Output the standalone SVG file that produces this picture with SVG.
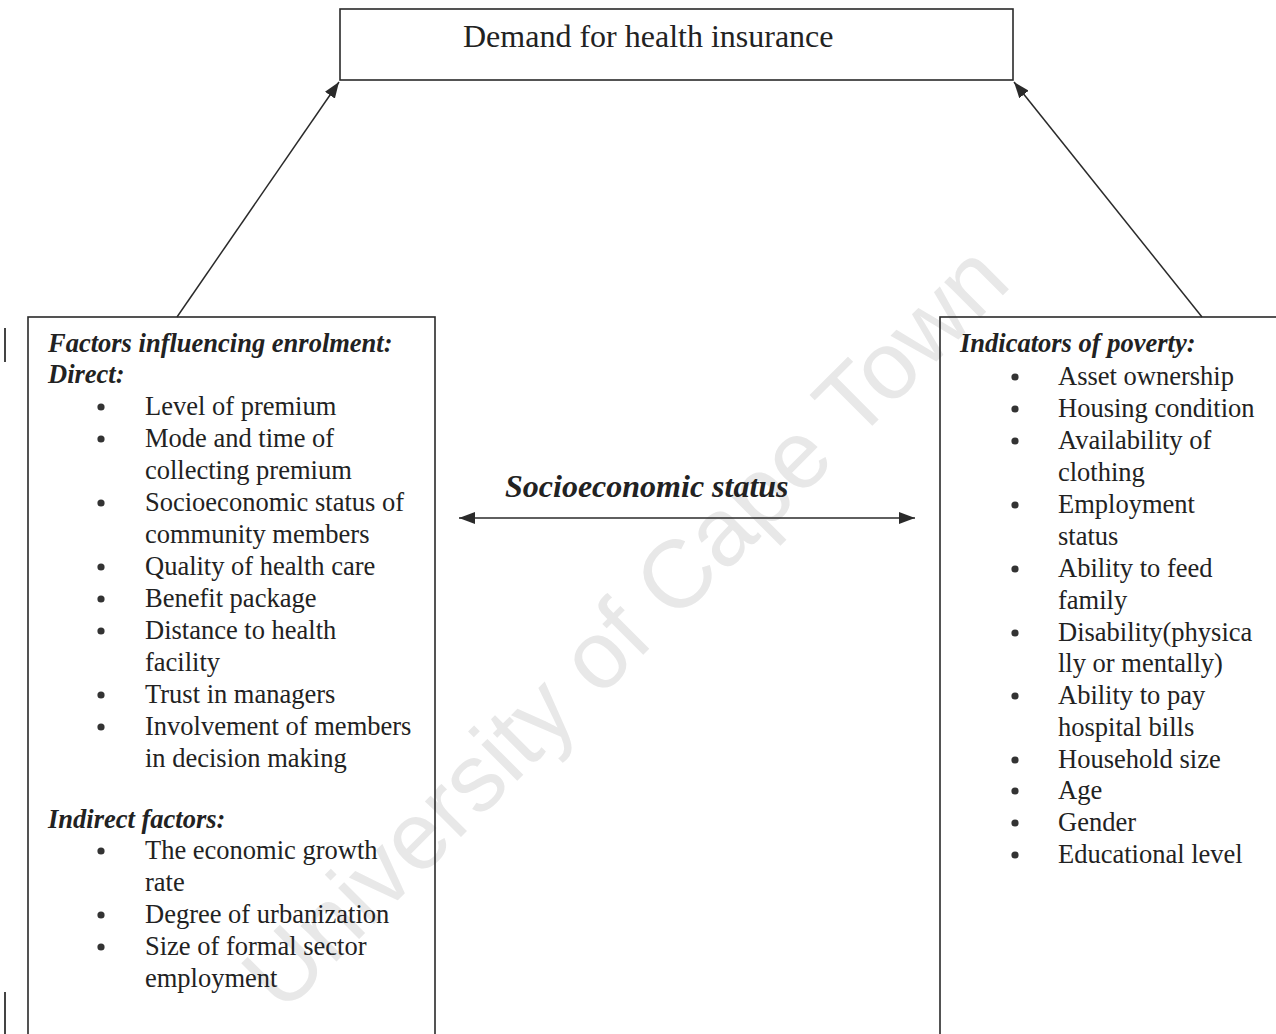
<svg xmlns="http://www.w3.org/2000/svg" width="1276" height="1034" viewBox="0 0 1276 1034">
<style>
.box{fill:none;stroke:#2a2a2a;stroke-width:1.6}
.conn{stroke:#2a2a2a;stroke-width:1.5;fill:none}
.t{font-family:"Liberation Serif","Times New Roman",serif;font-size:26.5px;fill:#222}
.h{font-family:"Liberation Serif","Times New Roman",serif;font-size:26.5px;font-weight:bold;font-style:italic;fill:#222}
.b{fill:#333}
.wm{font-family:"Liberation Sans",Arial,sans-serif;font-size:96px;fill:#e8e8e8}
</style>
<defs>
<marker id="ah" viewBox="0 0 16 12" refX="16" refY="6" markerWidth="16" markerHeight="12" markerUnits="userSpaceOnUse" orient="auto-start-reverse">
<path d="M0,0 L16,6 L0,12 z" fill="#2a2a2a"/>
</marker>
</defs>
<rect width="1276" height="1034" fill="#ffffff"/>
<text class="wm" x="648" y="650" text-anchor="middle" transform="rotate(-45 648 650)">University of Cape Town</text>

<g id="changebars" stroke="#444" stroke-width="2">
<line x1="5" y1="328" x2="5" y2="362"/>
<line x1="5" y1="992" x2="5" y2="1034"/>
</g>

<g id="connectors">
<line class="conn" x1="177" y1="317" x2="339" y2="82" marker-end="url(#ah)"/>
<line class="conn" x1="1202" y1="317" x2="1014" y2="82" marker-end="url(#ah)"/>
<line class="conn" x1="459" y1="518" x2="915" y2="518" marker-start="url(#ah)" marker-end="url(#ah)"/>
<text class="h" x="505" y="497" style="font-size:32px">Socioeconomic status</text>
</g>

<g id="demand">
<rect class="box" x="340" y="9" width="673" height="71"/>
<text class="t" x="463" y="47" style="font-size:32px">Demand for health insurance</text>
</g>

<g id="factors">
<rect class="box" x="28" y="317" width="407" height="730"/>
<text class="h" x="48" y="352">Factors influencing enrolment:</text>
<text class="h" x="48" y="383">Direct:</text>
<g class="b">
<circle cx="101" cy="407" r="3.6"/>
<circle cx="101" cy="439" r="3.6"/>
<circle cx="101" cy="503" r="3.6"/>
<circle cx="101" cy="567" r="3.6"/>
<circle cx="101" cy="599" r="3.6"/>
<circle cx="101" cy="631" r="3.6"/>
<circle cx="101" cy="695" r="3.6"/>
<circle cx="101" cy="727" r="3.6"/>
<circle cx="101" cy="851" r="3.6"/>
<circle cx="101" cy="915" r="3.6"/>
<circle cx="101" cy="947" r="3.6"/>
</g>
<text class="t" x="145" y="415">Level of premium</text>
<text class="t" x="145" y="447">Mode and time of</text>
<text class="t" x="145" y="479">collecting premium</text>
<text class="t" x="145" y="511">Socioeconomic status of</text>
<text class="t" x="145" y="543">community members</text>
<text class="t" x="145" y="575">Quality of health care</text>
<text class="t" x="145" y="607">Benefit package</text>
<text class="t" x="145" y="639">Distance to health</text>
<text class="t" x="145" y="671">facility</text>
<text class="t" x="145" y="703">Trust in managers</text>
<text class="t" x="145" y="735">Involvement of members</text>
<text class="t" x="145" y="767">in decision making</text>
<text class="h" x="48" y="828">Indirect factors:</text>
<text class="t" x="145" y="859">The economic growth</text>
<text class="t" x="145" y="891">rate</text>
<text class="t" x="145" y="923">Degree of urbanization</text>
<text class="t" x="145" y="955">Size of formal sector</text>
<text class="t" x="145" y="987">employment</text>
</g>

<g id="poverty">
<rect class="box" x="940" y="317" width="360" height="730"/>
<text class="h" x="960" y="352">Indicators of poverty:</text>
<g class="b">
<circle cx="1015" cy="377" r="3.6"/>
<circle cx="1015" cy="409" r="3.6"/>
<circle cx="1015" cy="441" r="3.6"/>
<circle cx="1015" cy="505" r="3.6"/>
<circle cx="1015" cy="569" r="3.6"/>
<circle cx="1015" cy="633" r="3.6"/>
<circle cx="1015" cy="696" r="3.6"/>
<circle cx="1015" cy="760" r="3.6"/>
<circle cx="1015" cy="791" r="3.6"/>
<circle cx="1015" cy="823" r="3.6"/>
<circle cx="1015" cy="855" r="3.6"/>
</g>
<text class="t" x="1058" y="385">Asset ownership</text>
<text class="t" x="1058" y="417">Housing condition</text>
<text class="t" x="1058" y="449">Availability of</text>
<text class="t" x="1058" y="481">clothing</text>
<text class="t" x="1058" y="513">Employment</text>
<text class="t" x="1058" y="545">status</text>
<text class="t" x="1058" y="577">Ability to feed</text>
<text class="t" x="1058" y="609">family</text>
<text class="t" x="1058" y="641">Disability(physica</text>
<text class="t" x="1058" y="672">lly or mentally)</text>
<text class="t" x="1058" y="704">Ability to pay</text>
<text class="t" x="1058" y="736">hospital bills</text>
<text class="t" x="1058" y="768">Household size</text>
<text class="t" x="1058" y="799">Age</text>
<text class="t" x="1058" y="831">Gender</text>
<text class="t" x="1058" y="863">Educational level</text>
</g>
</svg>
